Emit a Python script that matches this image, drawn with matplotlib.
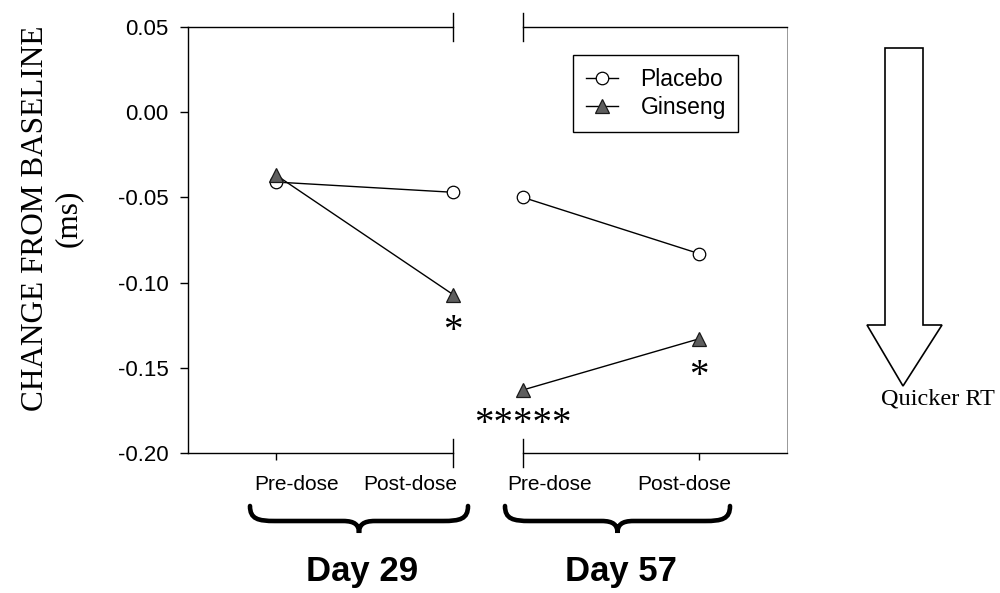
import matplotlib
matplotlib.use("Agg")
import matplotlib.pyplot as plt
from matplotlib.path import Path
from matplotlib.patches import PathPatch, Polygon

plt.rcParams['font.family'] = ['Liberation Sans', 'DejaVu Sans']

# data: change from baseline (ms)
timepoints = ["Pre-dose", "Post-dose"]
days = ["Day 29", "Day 57"]
x_pos = [0, 1]
placebo_d29 = [-0.041, -0.047]
ginseng_d29 = [-0.037, -0.107]
placebo_d57 = [-0.050, -0.083]
ginseng_d57 = [-0.163, -0.133]
yticks = [0.05, 0.00, -0.05, -0.10, -0.15, -0.20]

W, H = 1000, 593
fig = plt.figure(figsize=(10, 5.93), dpi=100)


def fx(x):
    return x / W


def fy(y):
    return 1 - y / H


# two panels of a broken x axis
top, bot = 27, 453
ax1 = fig.add_axes([fx(188), fy(bot), fx(453 - 188), (bot - top) / H])
ax2 = fig.add_axes([fx(523), fy(bot), fx(787 - 523), (bot - top) / H])

placebo_kw = dict(color='black', lw=1.0, marker='o', ms=9, mfc='white',
                  mec='black', mew=0.9)
ginseng_kw = dict(color='black', lw=1.0, marker='^', ms=9.5, mfc='#5e5e5e',
                  mec='#1a1a1a', mew=0.9)

l1, = ax1.plot(x_pos, placebo_d29, label='Placebo', zorder=3, clip_on=False, **placebo_kw)
l2, = ax1.plot(x_pos, ginseng_d29, label='Ginseng', zorder=4, clip_on=False, **ginseng_kw)
ax2.plot(x_pos, placebo_d57, zorder=3, clip_on=False, **placebo_kw)
ax2.plot(x_pos, ginseng_d57, zorder=4, clip_on=False, **ginseng_kw)

ax1.set_xlim(-0.5, 1.0)
ax2.set_xlim(0.0, 1.5)
for ax in (ax1, ax2):
    ax.set_ylim(-0.20, 0.05)
    ax.set_facecolor('none')
    for s in ax.spines.values():
        s.set_linewidth(1.0)

ax1.set_yticks(yticks)
ax1.set_yticklabels([f"{v:.2f}" for v in yticks])
ax1.tick_params(axis='y', direction='out', length=6, width=1.0, pad=8, labelsize=16)
ax1.spines['right'].set_visible(False)
ax2.spines['left'].set_visible(False)
ax2.spines['right'].set_color('#888888')
ax2.spines['right'].set_linewidth(0.6)
ax2.set_yticks([])

ax1.set_xticks([x_pos[0]])
ax2.set_xticks([x_pos[1]])
for ax in (ax1, ax2):
    ax.set_xticklabels([])
    ax.tick_params(axis='x', direction='out', length=5, width=1.0)

# break marks
d = 14 / (bot - top)
for ax, xb in ((ax1, 1), (ax2, 0)):
    for yb in (0, 1):
        ax.plot([xb, xb], [yb - d, yb + d], color='black', lw=1.0,
                transform=ax.transAxes, clip_on=False)

# tick labels
lab_y = -32 / (bot - top)
for ax, xs in ((ax1, (0.411, 0.838)), (ax2, (0.102, 0.61))):
    for xx, t in zip(xs, timepoints):
        ax.text(xx, lab_y, t, transform=ax.transAxes, ha='center', va='center',
                fontsize=15)

# significance stars
star_kw = dict(textcoords='offset pixels', ha='center', va='baseline',
               fontsize=28, family='Liberation Serif', annotation_clip=False)
ax1.annotate('*', xy=(x_pos[1], ginseng_d29[1]), xytext=(0, -46), **star_kw)
ax2.annotate('*', xy=(x_pos[1], ginseng_d57[1]), xytext=(0, -47), **star_kw)
ax2.annotate('*****', xy=(x_pos[0], ginseng_d57[0]), xytext=(0, -44), **star_kw)

# legend
leg = ax2.legend(handles=[l1, l2], loc='upper left', bbox_to_anchor=(0.189, 0.934),
                 borderaxespad=0, fancybox=False, edgecolor='black', framealpha=1,
                 fontsize=16.5, handlelength=1.4, handletextpad=1.0, numpoints=1,
                 borderpad=0.55, labelspacing=0.25)
leg.get_frame().set_linewidth(1.0)

# y label
fig.text(fx(52), fy(218), "CHANGE FROM BASELINE\n(ms)", rotation=90,
         ha='center', va='center', multialignment='center',
         family='Liberation Serif', fontsize=22.5, linespacing=1.2)


# curly braces under each day
def brace(x0, x1, ytop, ymid, ytip):
    xc = (x0 + x1) / 2
    pts = [(x0, ytop), (x0, ymid - 2), (x0 + 8, ymid), (x0 + 25, ymid),
           (xc - 16, ymid), (xc - 4, ymid), (xc, ymid + 4), (xc, ytip),
           (xc, ymid + 4), (xc + 4, ymid), (xc + 16, ymid),
           (x1 - 25, ymid), (x1 - 8, ymid), (x1, ymid - 2), (x1, ytop)]
    codes = [Path.MOVETO, Path.CURVE4, Path.CURVE4, Path.CURVE4,
             Path.LINETO, Path.CURVE4, Path.CURVE4, Path.CURVE4,
             Path.CURVE4, Path.CURVE4, Path.CURVE4,
             Path.LINETO, Path.CURVE4, Path.CURVE4, Path.CURVE4]
    path = Path([(fx(a), fy(b)) for a, b in pts], codes)
    fig.add_artist(PathPatch(path, fill=False, lw=3.3, color='black',
                             capstyle='round', transform=fig.transFigure))
    return xc


for (b0, b1), day in zip(((250, 468), (505, 730)), days):
    xc = brace(b0, b1, 506, 521, 533)
    fig.text(fx(xc + 3), fy(571), day, ha='center', va='center',
             fontsize=25, fontweight='bold')

# "quicker RT" arrow
arrow_px = [(885, 48), (923, 48), (923, 325), (942, 325), (903, 386),
            (867, 325), (885, 325)]
fig.add_artist(Polygon([(fx(a), fy(b)) for a, b in arrow_px], closed=True,
                       fill=False, lw=1.2, ec='black', transform=fig.transFigure))
fig.text(fx(938), fy(399), "Quicker RT", ha='center', va='center',
         family='Liberation Serif', fontsize=17.5)

fig.savefig("out.png", dpi=100)
